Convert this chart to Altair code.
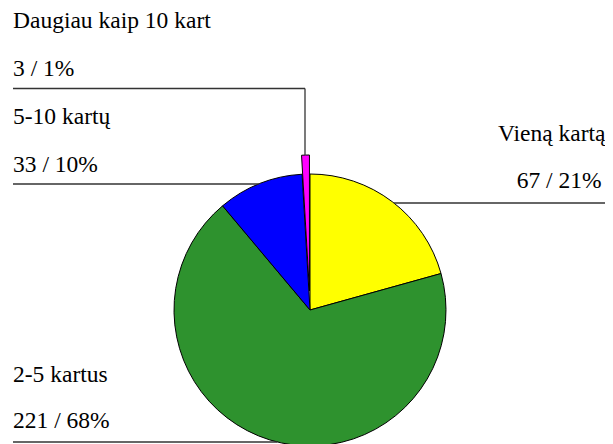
import math
import altair as alt
import pandas as pd

# ---- data ----
categories = ["Vieną kartą", "2-5 kartus", "5-10 kartų", "Daugiau kaip 10 kart"]
counts = [67, 221, 33, 3]
percents = ["21%", "68%", "10%", "1%"]
colors = ["#FFFF00", "#2E922E", "#0000FF", "#FF00FF"]

total = sum(counts)
starts, ends = [], []
acc = 0
for c in counts:
    starts.append(acc)
    acc += c
    ends.append(acc)

df = pd.DataFrame({"cat": categories, "count": counts, "start": starts, "end": ends})

# ---- layout (chart pixel space) ----
W, H = 597, 436
CX, CY, R = 302, 302, 136
EXPLODE = 19
FONT = "Liberation Serif"
FS = 23.5

theta_scale = alt.Scale(domain=[0, total], range=[0, 2 * math.pi])
color_scale = alt.Scale(domain=categories, range=colors)

def pie_layer(sub, cx, cy):
    return alt.Chart(sub).mark_arc(radius=R, stroke="black", strokeWidth=1).encode(
        theta=alt.Theta("start:Q", scale=theta_scale),
        theta2="end:Q",
        color=alt.Color("cat:N", scale=color_scale, legend=None),
        x=alt.value(cx),
        y=alt.value(cy),
    )

main = pie_layer(df[df["cat"] != categories[3]], CX, CY)
# exploded small slice, shifted outward along its bisector
mid = (starts[3] + ends[3]) / 2 / total * 2 * math.pi
ex_cx = CX + EXPLODE * math.sin(mid)
ex_cy = CY - EXPLODE * math.cos(mid)
small = pie_layer(df[df["cat"] == categories[3]], ex_cx, ex_cy)

def edge_x(y, side):
    return CX + side * math.sqrt(max(R * R - (y - CY) ** 2, 0))

# leader lines (annotation layout)
line_rows = [
    {"x": 5, "x2": 297, "y": 80.5, "y2": 80.5},
    {"x": 297, "x2": 297, "y": 80.5, "y2": ex_cy - R},
    {"x": 5, "x2": edge_x(176, -1), "y": 176, "y2": 176},
    {"x": edge_x(195, 1), "x2": 599, "y": 195, "y2": 195},
    {"x": 5, "x2": edge_x(434, -1), "y": 434, "y2": 434},
]
lines = alt.layer(*[
    alt.Chart(pd.DataFrame([r])).mark_rule(color="#333333", strokeWidth=1.3).encode(
        x=alt.value(r["x"]), x2=alt.value(r["x2"]), y=alt.value(r["y"]), y2=alt.value(r["y2"])
    ) for r in line_rows
])

label_pos = [
    (490, 132.7, 508.7, 180),   # Vieną kartą
    (5, 373.7, 5, 420),         # 2-5 kartus
    (5, 116, 5, 163.7),         # 5-10 kartų
    (5, 20, 5, 68),             # Daugiau kaip 10 kart
]
texts = []
for i, (x1, y1, x2, y2) in enumerate(label_pos):
    for txt, x, y in [(categories[i], x1, y1), (f"{counts[i]} / {percents[i]}", x2, y2)]:
        texts.append(
            alt.Chart(pd.DataFrame({"t": [txt]})).mark_text(
                font=FONT, fontSize=FS, align="left", baseline="alphabetic", color="black"
            ).encode(text="t:N", x=alt.value(x), y=alt.value(y))
        )

chart = alt.layer(main, small, lines, *texts).properties(
    width=W, height=H, padding=0, autosize=alt.AutoSizeParams(type="none")
).configure_view(stroke=None)

chart.save("out.html", embed_options={"renderer": "svg", "actions": False})
